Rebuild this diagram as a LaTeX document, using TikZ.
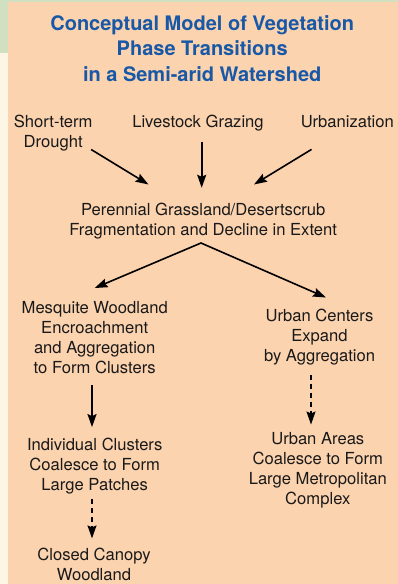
\documentclass[tikz,border=0pt]{standalone}
\usepackage{fontspec}
\setmainfont{TeX Gyre Heros}
\usepackage{xcolor}
\usetikzlibrary{positioning, arrows.meta}
\definecolor{panelpeach}{HTML}{FCD3AF}
\definecolor{stripgreen}{HTML}{D0E0C0}
\definecolor{stripcream}{HTML}{FEF6E4}
\definecolor{titleblue}{HTML}{1858A6}

\begin{document}
\begin{tikzpicture}[
    x=1pt, y=1pt,
    stage/.style={align=center, inner sep=0pt, font=\fontsize{16.6}{20}\selectfont, text=black!90},
    heading/.style={align=center, inner sep=0pt, font=\fontsize{20}{25.6}\selectfont\bfseries, text=titleblue},
    arrow/.style={-{Stealth[length=13pt, width=9pt, inset=2pt]}, line width=1.6pt},
    twoway/.style={{Stealth[length=13pt, width=9pt, inset=2pt]}-{Stealth[length=13pt, width=9pt, inset=2pt]}, line width=1.6pt},
    dasharrow/.style={arrow, dash pattern=on 5pt off 4pt}
]
    % background panel
    \useasboundingbox (0,0) rectangle (398,-584);
    \fill[stripcream] (0,0) rectangle (8,-584);
    \fill[stripgreen] (0,0) rectangle (398,-2);
    \fill[stripgreen] (0,0) rectangle (8,-52.7);
    \fill[panelpeach] (8,-2) rectangle (398,-584);

    \node[heading] (heading) at (202.2,-48.5) {Conceptual Model of Vegetation\\Phase Transitions\\in a Semi-arid Watershed};

    % drivers
    \node[stage, below=33pt of heading, xshift=-4.2pt] (grazing) {Livestock Grazing};
    \node[stage, left=39.4pt of grazing.north west, anchor=north east] (drought) {Short-term\\Drought};
    \node[stage, right=36.7pt of grazing.north east, anchor=north west] (urban) {Urbanization};

    \node[stage, below=72pt of grazing, xshift=5.2pt] (grassland) {Perennial Grassland/Desertscrub\\Fragmentation and Decline in Extent};
    \coordinate[below=3.3pt of grassland, xshift=-2.2pt] (fork);

    % two branches
    \node[stage, below=61.2pt of grassland, xshift=-108.5pt] (mesquite) {Mesquite Woodland\\Encroachment\\and Aggregation\\to Form Clusters};
    \node[stage, below=69.6pt of grassland, xshift=116.3pt] (centers) {Urban Centers\\Expand\\by Aggregation};
    \node[stage, below=64.1pt of mesquite] (clusters) {Individual Clusters\\Coalesce to Form\\Large Patches};
    \node[stage, below=66.9pt of centers, xshift=-1.7pt] (metro) {Urban Areas\\Coalesce to Form\\Large Metropolitan\\Complex};
    \node[stage, below=53.6pt of clusters, xshift=-0.7pt] (canopy) {Closed Canopy\\Woodland};

    \draw[arrow] ([shift={(-1.6,1.8)}]drought.south east) -- ([shift={(-54.7,18.8)}]grassland.north);
    \draw[arrow] ([shift={(3.7,-11.2)}]grazing.south) -- ([shift={(-1.5,15.5)}]grassland.north);
    \draw[arrow] ([shift={(11,-21.7)}]urban.south west) -- ([shift={(50.8,18.8)}]grassland.north);
    \draw[twoway] ([yshift=12.9pt]mesquite.north) -- (fork) -- ([shift={(6.5,11.8)}]centers.north);
    \draw[arrow] ([shift={(-2.7,-11.7)}]mesquite.south) -- ([shift={(-2.7,10.7)}]clusters.north);
    \draw[dasharrow] ([shift={(-8.5,-8.8)}]centers.south) -- ([shift={(-6.8,8.1)}]metro.north);
    \draw[dasharrow] ([shift={(-2.7,-5.2)}]clusters.south) -- ([shift={(-2,9.4)}]canopy.north);
\end{tikzpicture}
\end{document}
